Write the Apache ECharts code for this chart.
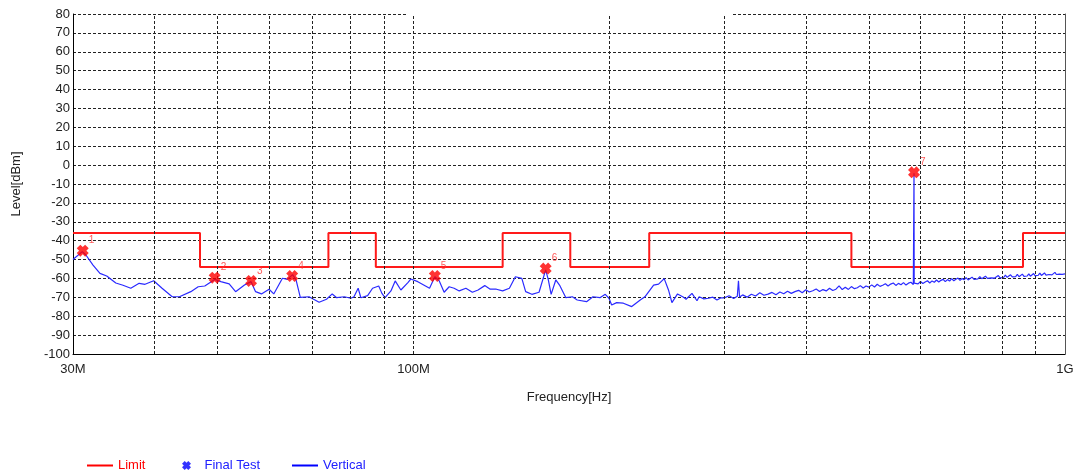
<!DOCTYPE html>
<html>
<head>
<meta charset="utf-8">
<script src="https://cdn.jsdelivr.net/npm/echarts@6/dist/echarts.min.js"></script>
<style>html,body{margin:0;padding:0;background:#fff}#c{width:1080px;height:475px}</style>
</head>
<body>
<div id="c"></div>
<script>
// ---- data (MHz, dBm) ----
const yTicks = [-100, 80, 10];
const xTickLabels = [30, 100, 1000];
const gridFreqs = [40, 50, 60, 70, 80, 90, 100, 200, 300, 400, 500, 600, 700, 800, 900];

const limitFreq  = [30, 47, 74, 87.5, 137, 174, 230, 470, 862, 1000];
const limitLevel = [-36, -54, -36, -54, -36, -54, -36, -54, -36, -36];

const markerNo    = ['1', '2', '3', '4', '5', '6', '7'];
const markerFreq  = [31.05, 49.5, 56.3, 65.1, 107.8, 159.5, 586.4];
const markerLevel = [-45.3, -59.6, -61.3, -58.7, -58.7, -54.8, -3.8];

const traceFreq = [
 30.0,31.0,31.4,32.2,33.0,33.8,34.9,35.8,36.8,37.9,38.7,39.9,41.1,42.6,43.7,45.5,46.7,47.8,49.5,50.6,
 52.1,53.3,55.0,56.3,57.2,58.4,60.0,61.0,62.9,64.0,65.2,66.0,67.0,69.1,71.6,73.5,75.0,76.2,78.3,80.1,
 81.0,82.2,83.0,85.0,86.5,88.4,89.4,90.4,92.3,93.7,95.6,98.0,99.0,101.5,105.8,107.8,109.5,111.4,113.4,115.4,
 117.5,120.3,123.1,125.6,128.6,131.1,134.0,137.0,140.3,143.3,146.6,148.6,151.9,155.8,159.5,161.0,162.6,165.3,167.5,171.3,
 175.3,178.3,184.3,188.5,193.2,196.9,199.5,201.4,205,209.9,216.2,222.8,226.5,233.6,237.7,242.5,246.2,249.2,254.2,259.7,
 262,267.5,272.3,274.4,279,283.7,288,292.2,296,
 300,305,310,314,315.3,316.5,320,325,330,335,340,345,350,355,360,365,370,375,380,385,
 390,395,400,405,410,415,420,425,430,435,440,445,450,455,460,465,470,475,480,485,
 490,495,500,505,510,515,520,525,530,535,540,545,550,555,560,565,570,575,580,585,
 586.0,586.4,586.8,590,595,600,605,610,615,620,625,630,635,640,645,650,655,660,665,670,
 675,680,685,690,695,700,705,710,715,720,725,730,735,740,745,750,755,760,765,770,
 775,780,785,790,795,800,805,810,815,820,825,830,835,840,845,850,855,860,865,870,
 875,880,885,890,895,900,905,910,915,920,925,930,935,940,945,950,955,960,965,970,
 975,980,985,990,995,1000
];
const traceLevel = [
 -50.0,-45.8,-47.6,-52.9,-57.3,-58.7,-62.4,-63.6,-65.2,-62.6,-63.1,-61.2,-65.2,-69.7,-69.7,-67.0,-64.4,-64.0,-60.5,-61.7,
 -62.9,-67.0,-63.5,-61.7,-67.0,-68.2,-65.7,-68.2,-59.9,-60.5,-58.0,-60.8,-70.0,-69.7,-72.6,-71.0,-68.2,-70.2,-69.7,-70.5,
 -69.7,-65.2,-70.2,-69.1,-65.2,-64.0,-67.9,-70.2,-66.6,-61.3,-66.1,-62.2,-60.3,-61.7,-65.2,-59.1,-61.3,-67.3,-64.4,-65.2,
 -66.6,-65.2,-67.3,-66.1,-63.8,-65.7,-65.7,-66.6,-65.2,-59.1,-60.0,-67.0,-68.4,-67.3,-55.5,-60.8,-68.4,-60.8,-63.5,-70.2,
 -69.7,-71.4,-72.3,-69.7,-70.2,-68.4,-70.5,-74.1,-72.8,-73.1,-74.9,-71.4,-69.7,-63.5,-63.0,-60.1,-66.1,-72.8,-68.2,-70.0,
 -71.0,-67.9,-71.8,-69.7,-70.8,-70.5,-69.9,-71.4,-70.3,
 -70.3,-69.2,-70.6,-69.4,-61.2,-69.8,-68.7,-69.9,-68.4,-69.3,-67.6,-68.9,-68.3,-67.4,-68.6,-67.2,-68.1,-66.8,-67.9,-67.0,
 -66.3,-67.6,-66.0,-67.2,-66.5,-65.6,-66.9,-65.9,-66.6,-65.2,-66.4,-65.7,-63.9,-65.9,-64.7,-65.8,-64.3,-65.4,-64.9,-63.8,
 -65.1,-64.0,-64.6,-63.4,-64.5,-63.1,-64.2,-63.6,-62.8,-64.0,-63.0,-62.4,-63.7,-62.6,-63.3,-62.2,-63.5,-62.5,-62.0,-63.2,
 -62.7,-4.3,-62.5,-62.0,-62.9,-61.6,-62.7,-61.9,-61.2,-62.4,-61.3,-62.0,-60.8,-61.9,-61.0,-60.5,-61.7,-60.6,-61.4,-60.1,
 -61.2,-60.4,-59.8,-61.0,-60.0,-60.7,-59.6,-60.8,-59.9,-59.3,-60.5,-59.5,-60.2,-59.0,-60.1,-59.4,-58.8,-60.0,-59.0,-59.7,
 -58.8,-59.8,-59.1,-58.5,-59.7,-58.8,-59.5,-58.3,-59.4,-58.7,-58.1,-59.2,-58.4,-59.0,-57.9,-59.1,-58.2,-57.7,-58.9,-58.0,
 -58.7,-57.6,-58.8,-58.0,-57.4,-58.6,-57.7,-58.3,-57.2,-58.4,-57.6,-57.1,-58.2,-57.3,-57.9,-56.9,-58.1,-57.3,-56.8,-57.9,
 -57.1,-57.7,-56.7,-57.8,-57.2,-57.6
];

// ---- chart ----
const FONT = 'Liberation Sans, Arial, sans-serif';
const xSymbol = 'path://M0,3 L3,0 L5,2 L7,0 L10,3 L8,5 L10,7 L7,10 L5,8 L3,10 L0,7 L2,5 Z';
const fmtFreq = v => { const r = Math.round(v); return r >= 1000 ? (r / 1000) + 'G' : r + 'M'; };
const legendBase = { top: 459, padding: 0, itemWidth: 26, itemHeight: 9, selectedMode: false,
  textStyle: { fontSize: 13, fontFamily: FONT } };

const chart = echarts.init(document.getElementById('c'), null, { renderer: 'canvas' });
chart.setOption({
  animation: false,
  backgroundColor: '#fff',
  grid: { left: 73, right: 15, top: 14, bottom: 121, containLabel: false },
  legend: [
    Object.assign({}, legendBase, { left: 86, data: [
      { name: 'Limit', textStyle: { color: '#ff0000' }, lineStyle: { width: 2, color: '#ff0000' }, itemStyle: { opacity: 0 } }] }),
    Object.assign({}, legendBase, { left: 182, data: [
      { name: 'Final Test', icon: xSymbol, itemStyle: { color: '#0000ff' }, textStyle: { color: '#2020ff' } }] }),
    Object.assign({}, legendBase, { left: 291, data: [
      { name: 'Vertical', textStyle: { color: '#2020ff' }, lineStyle: { width: 2, color: '#0000ff' }, itemStyle: { opacity: 0 } }] })
  ],
  graphic: [{ type: 'rect', shape: { x: 406, y: 12, width: 326, height: 3 }, style: { fill: '#fff' }, z: 100, silent: true }],
  xAxis: {
    type: 'log', logBase: 10, min: xTickLabels[0], max: xTickLabels[xTickLabels.length - 1],
    name: 'Frequency[Hz]', nameLocation: 'middle', nameGap: 37,
    nameTextStyle: { fontSize: 13, fontFamily: FONT, color: '#222' },
    axisLine: { show: true, onZero: false, lineStyle: { color: '#000', width: 1 } },
    axisTick: { show: false },
    splitLine: { show: false },
    minorTick: { show: false }, minorSplitLine: { show: false },
    axisLabel: { customValues: xTickLabels, formatter: fmtFreq, fontSize: 13, fontFamily: FONT, color: '#222', margin: 9 }
  },
  yAxis: [{
    type: 'value', min: yTicks[0], max: yTicks[1], interval: yTicks[2],
    name: 'Level[dBm]', nameLocation: 'middle', nameGap: 50, nameRotate: 90,
    nameTextStyle: { fontSize: 13, fontFamily: FONT, color: '#222' },
    axisLine: { show: true, onZero: false, lineStyle: { color: '#000', width: 1 } },
    axisTick: { show: false },
    axisLabel: { fontSize: 13, fontFamily: FONT, color: '#222', margin: 3 },
    splitLine: { show: true, lineStyle: { color: '#222', type: [3, 2], width: 1 } }
  }, {
    type: 'value', min: yTicks[0], max: yTicks[1], interval: yTicks[2], position: 'right',
    axisLine: { show: true, onZero: false, lineStyle: { color: '#555', width: 1 } },
    axisTick: { show: false }, axisLabel: { show: false }, splitLine: { show: false }
  }],
  series: [
    {
      name: 'Limit', type: 'line', step: 'end', showSymbol: false, symbol: 'none', silent: true, z: 3,
      data: limitFreq.map((f, i) => [f, limitLevel[i]]),
      lineStyle: { color: '#ff1a1a', width: 2 },
      itemStyle: { color: '#ff0000' },
      markLine: {
        silent: true, symbol: ['none', 'none'], label: { show: false }, animation: false,
        lineStyle: { color: '#222', type: [3, 2], width: 1 },
        emphasis: { disabled: true },
        data: gridFreqs.map(f => ({ xAxis: f }))
      }
    },
    {
      name: 'Vertical', type: 'line', showSymbol: false, symbol: 'none', silent: true, z: 4,
      data: traceFreq.map((f, i) => [f, traceLevel[i]]),
      lineStyle: { color: '#2a2aff', width: 1.2 },
      itemStyle: { color: '#0000ff' }
    },
    {
      name: 'Final Test', type: 'scatter', symbol: xSymbol, symbolSize: 12, symbolKeepAspect: true, z: 6,
      silent: true,
      itemStyle: { color: '#ff0000' },
      data: markerFreq.map((f, i) => ({ value: [f, markerLevel[i]], name: markerNo[i] })),
      label: {
        show: true, formatter: '{b}', position: 'right', offset: [-5, -10],
        color: '#ff3030', fontSize: 10, fontFamily: FONT
      }
    }
  ]
});
</script>
</body>
</html>
